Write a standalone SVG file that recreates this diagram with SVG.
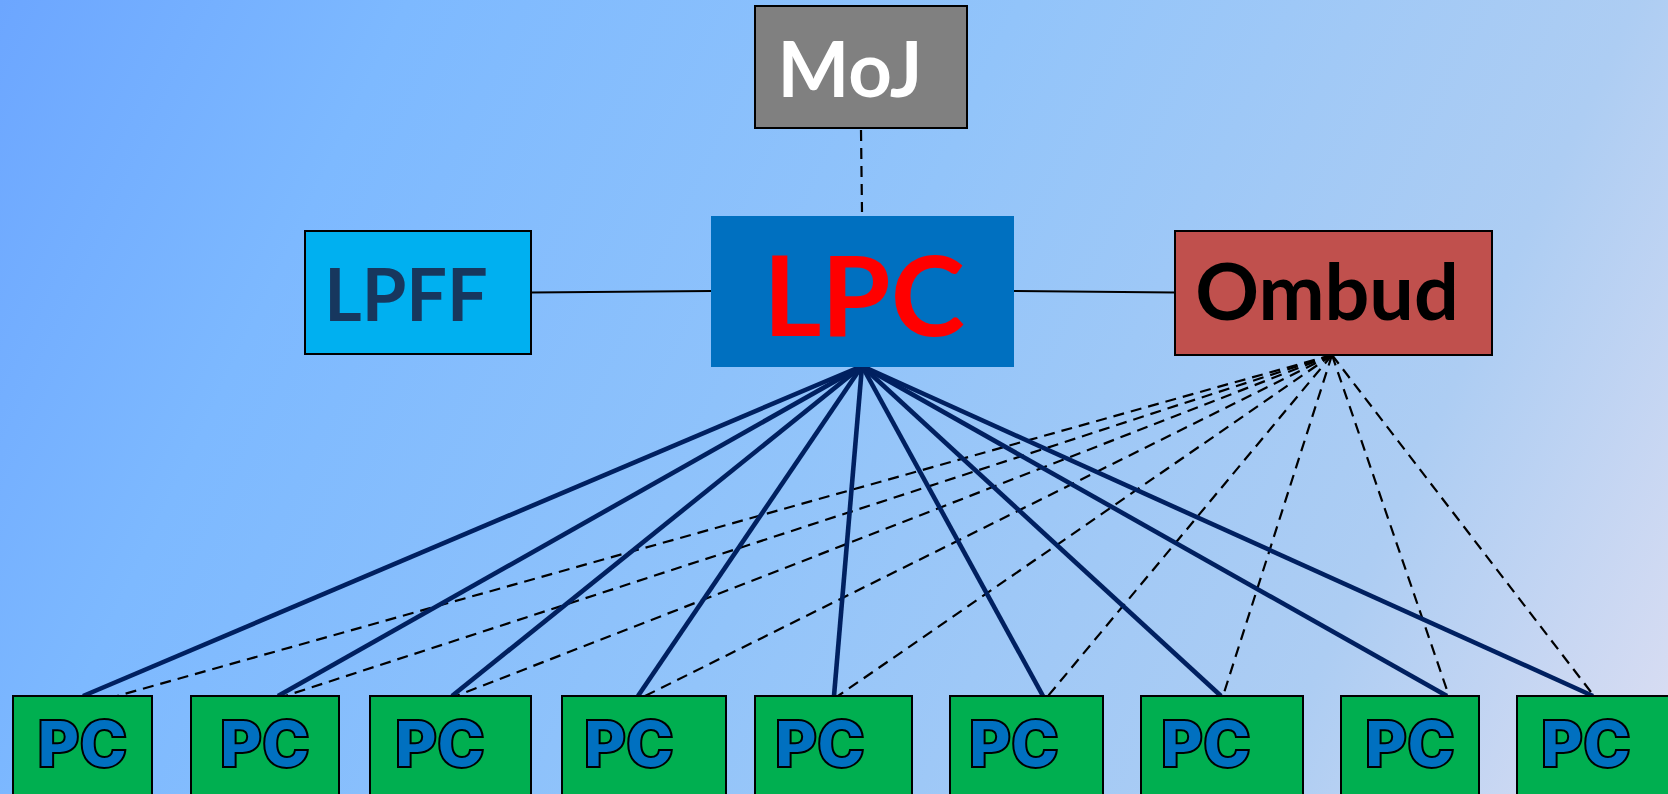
<svg xmlns="http://www.w3.org/2000/svg" width="1668" height="794" viewBox="0 0 1668 794">
<defs>
<linearGradient id="bg" gradientUnits="userSpaceOnUse" x1="0" y1="0" x2="1668" y2="794">
<stop offset="0" stop-color="#6CA6FF"/>
<stop offset="0.2" stop-color="#7DB9FF"/>
<stop offset="0.5" stop-color="#92C4FA"/>
<stop offset="0.8" stop-color="#ADCDF3"/>
<stop offset="1" stop-color="#DCDEF2"/>
</linearGradient>
<style>
.box{stroke:#000;stroke-width:2}
.lbl{font-family:Lato,"Open Sans","Liberation Sans",sans-serif;font-weight:bold;text-anchor:middle}
.pc{fill:#00AF50}
.pct{font-family:Inter,"Liberation Sans",Arial,sans-serif;font-weight:900;font-size:64px;fill:#0070C0;stroke:#000;stroke-width:2;text-anchor:middle}
.solid{stroke:#002060;stroke-width:4.6;fill:none}
.dash{stroke:#000;stroke-width:2.2;stroke-dasharray:11 7;fill:none}
.thin{stroke:#000;stroke-width:2;fill:none}
</style>
</defs>
<rect width="1668" height="794" fill="url(#bg)"/>
<g id="connectors">
<line class="dash" x1="861" y1="130" x2="862" y2="212"/>
<line class="thin" x1="531" y1="292.5" x2="711" y2="291"/>
<line class="thin" x1="1014" y1="291" x2="1175" y2="292.5"/>
<g class="dash">
<line x1="1332" y1="355" x2="117" y2="696"/>
<line x1="1332" y1="355" x2="285" y2="696"/>
<line x1="1332" y1="355" x2="456" y2="696"/>
<line x1="1332" y1="355" x2="645" y2="696"/>
<line x1="1332" y1="355" x2="838" y2="696"/>
<line x1="1332" y1="355" x2="1048" y2="696"/>
<line x1="1332" y1="355" x2="1223" y2="696"/>
<line x1="1332" y1="355" x2="1449" y2="696"/>
<line x1="1332" y1="355" x2="1594" y2="696"/>
</g>
<g class="solid">
<line x1="862" y1="366" x2="83" y2="696"/>
<line x1="862" y1="366" x2="278" y2="696"/>
<line x1="862" y1="366" x2="452" y2="696"/>
<line x1="862" y1="366" x2="638" y2="696"/>
<line x1="862" y1="366" x2="834" y2="696"/>
<line x1="862" y1="366" x2="1043" y2="696"/>
<line x1="862" y1="366" x2="1221" y2="696"/>
<line x1="862" y1="366" x2="1447" y2="696"/>
<line x1="862" y1="366" x2="1593" y2="696"/>
</g>
</g>
<g id="moj">
<rect class="box" x="755" y="6" width="212" height="122" fill="#808080"/>
<text class="lbl" x="850" y="97" font-size="76" fill="#FFFFFF">MoJ</text>
</g>
<g id="lpff">
<rect class="box" x="305" y="231" width="226" height="123" fill="#00B0F0"/>
<text class="lbl" x="406" y="321" font-size="72" fill="#17375E">LPFF</text>
</g>
<g id="lpc">
<rect x="711" y="216" width="303" height="151" fill="#0070C0"/>
<text class="lbl" x="864" y="336" font-size="112" fill="#FF0000">LPC</text>
</g>
<g id="ombud">
<rect class="box" x="1175" y="231" width="317" height="124" fill="#C0504D"/>
<text class="lbl" x="1327" y="320" font-size="79" fill="#000000">Ombud</text>
</g>
<g id="pc1"><rect class="box pc" x="13" y="696" width="139" height="110"/><text class="pct" x="82.5" y="767">PC</text></g>
<g id="pc2"><rect class="box pc" x="191" y="696" width="148" height="110"/><text class="pct" x="265" y="767">PC</text></g>
<g id="pc3"><rect class="box pc" x="370" y="696" width="161" height="110"/><text class="pct" x="440" y="767">PC</text></g>
<g id="pc4"><rect class="box pc" x="562" y="696" width="164" height="110"/><text class="pct" x="629" y="767">PC</text></g>
<g id="pc5"><rect class="box pc" x="755" y="696" width="157" height="110"/><text class="pct" x="820" y="767">PC</text></g>
<g id="pc6"><rect class="box pc" x="950" y="696" width="153" height="110"/><text class="pct" x="1014" y="767">PC</text></g>
<g id="pc7"><rect class="box pc" x="1141" y="696" width="162" height="110"/><text class="pct" x="1206" y="767">PC</text></g>
<g id="pc8"><rect class="box pc" x="1341" y="696" width="138" height="110"/><text class="pct" x="1410" y="767">PC</text></g>
<g id="pc9"><rect class="box pc" x="1517" y="696" width="160" height="110"/><text class="pct" x="1586" y="767">PC</text></g>
</svg>
